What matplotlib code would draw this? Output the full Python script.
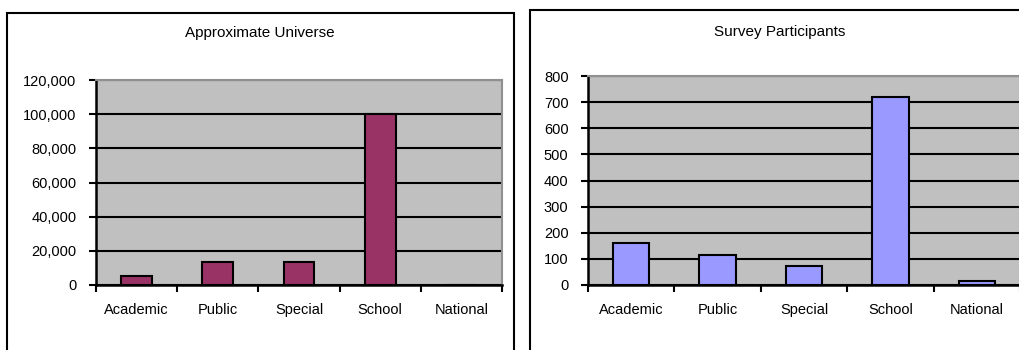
import matplotlib.pyplot as plt
from matplotlib.patches import Rectangle
from matplotlib.ticker import FuncFormatter

categories = ['Academic', 'Public', 'Special', 'School', 'National']
universe = [5000, 13500, 13500, 100000, 0]
participants = [160, 115, 73, 720, 15]

plt.rcParams['font.family'] = ['Liberation Sans', 'DejaVu Sans']
plt.rcParams['font.size'] = 10.5

W, H = 1019, 350
fig = plt.figure(figsize=(W / 100, H / 100), dpi=100)


def px_box(x0, y0, x1, y1):
    """Pixel box (top-left origin) to figure fraction [left, bottom, width, height]."""
    return [x0 / W, 1 - y1 / H, (x1 - x0) / W, (y1 - y0) / H]


def style_axis(ax, values, color, ymax, ystep, fmt, bar_width):
    ax.set_facecolor('#C0C0C0')
    ax.set_axisbelow(True)
    x = list(range(len(values)))
    ax.bar(x, values, width=bar_width, color=color, edgecolor='black', linewidth=1.5, zorder=3)
    ax.set_xlim(-0.5, len(values) - 0.5)
    ax.set_ylim(0, ymax)
    ax.set_yticks(range(0, ymax + 1, ystep))
    ax.yaxis.set_major_formatter(FuncFormatter(fmt))
    ax.set_xticks([i - 0.5 for i in range(len(values) + 1)])
    ax.set_xticklabels([])
    ax.set_xticks(x, minor=True)
    ax.set_xticklabels(categories, minor=True)
    ax.tick_params(axis='x', which='major', direction='out', length=5, width=1.5)
    ax.tick_params(axis='x', which='minor', length=0, pad=13)
    ax.tick_params(axis='y', direction='out', length=5, width=1.5, pad=9)
    ax.grid(axis='y', color='black', linewidth=1.5)
    for side in ['top', 'right']:
        ax.spines[side].set_color('#909090')
        ax.spines[side].set_linewidth(1.5)
    for side in ['left', 'bottom']:
        ax.spines[side].set_color('black')
        ax.spines[side].set_linewidth(1.8)


# panel frames
fig.patches.append(Rectangle((7 / W, -0.2), (514 - 7) / W, 1.2 - 13 / H,
                             transform=fig.transFigure, fill=False, edgecolor='black', linewidth=1.5))
fig.patches.append(Rectangle((530 / W, -0.2), 0.6, 1.2 - 10 / H,
                             transform=fig.transFigure, fill=False, edgecolor='black', linewidth=1.5))

ax1 = fig.add_axes(px_box(96, 80, 502, 285))
style_axis(ax1, universe, '#993366', 120000, 20000, lambda v, p: f'{int(v):,}', 0.38)
fig.text(260 / W, 1 - 33 / H, 'Approximate Universe', ha='center', va='center', fontsize=11)

ax2 = fig.add_axes(px_box(588, 76, 1020, 285))
style_axis(ax2, participants, '#9999FF', 800, 100, lambda v, p: f'{int(v)}', 0.42)
fig.text(780 / W, 1 - 32 / H, 'Survey Participants', ha='center', va='center', fontsize=11)

fig.savefig('out.png', dpi=100)
